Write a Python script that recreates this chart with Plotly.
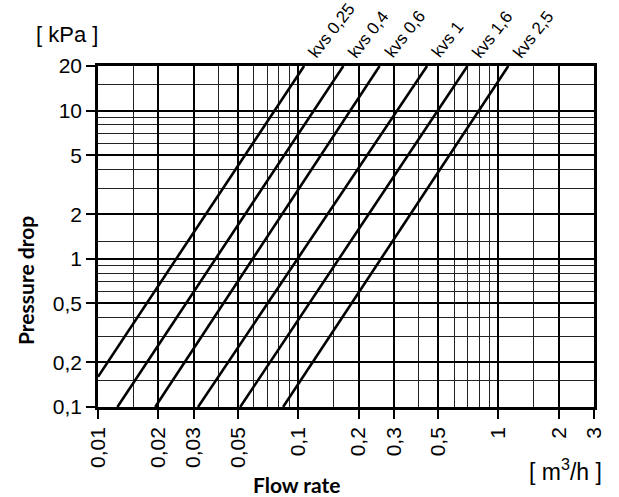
import plotly.graph_objects as go
import math

# ---- data ----
kvs_labels = ["kvs 0,25", "kvs 0,4", "kvs 0,6", "kvs 1", "kvs 1,6", "kvs 2,5"]
# start and end points of each characteristic line (flow m3/h, pressure drop kPa)
q_start = [0.01, 0.0125, 0.0193, 0.0316, 0.0513, 0.084]
dp_start = [0.16, 0.1, 0.1, 0.1, 0.1, 0.1]
q_end = [0.107, 0.168, 0.255, 0.44, 0.70, 1.12]
dp_end = [20, 20, 20, 20, 20, 20]

x_tickvals = [0.01, 0.02, 0.03, 0.05, 0.1, 0.2, 0.3, 0.5, 1, 2, 3]
x_ticktext = ["0,01", "0,02", "0,03", "0,05", "0,1", "0,2", "0,3", "0,5", "1", "2", "3"]
x_minor = [0.015, 0.04, 0.06, 0.07, 0.08, 0.09, 0.15, 0.4, 0.6, 0.7, 0.8, 0.9, 1.5]

y_tickvals = [0.1, 0.2, 0.5, 1, 2, 5, 10, 20]
y_ticktext = ["0,1", "0,2", "0,5", "1", "2", "5", "10", "20"]
y_minor = [0.15, 0.3, 0.4, 0.6, 0.7, 0.8, 0.9, 1.3, 3, 4, 6, 7, 8, 9, 15]

x_range = [0.01, 3]
y_range = [0.1, 20]

fig = go.Figure()
for i in range(len(kvs_labels)):
    fig.add_trace(go.Scatter(
        x=[q_start[i], q_end[i]], y=[dp_start[i], dp_end[i]],
        mode="lines", line=dict(color="black", width=2.6),
        showlegend=False, hoverinfo="skip"))
    fig.add_annotation(
        x=math.log10(q_end[i]), y=math.log10(dp_end[i]), xref="x", yref="y",
        text=kvs_labels[i], showarrow=False, textangle=-52,
        xanchor="left", yanchor="bottom", xshift=-2, yshift=2,
        font=dict(family="Liberation Sans, Arial", size=17, color="black"))

tickfont = dict(family="Liberation Sans, Arial", size=21, color="black")
fig.update_xaxes(
    type="log", range=[math.log10(x_range[0]), math.log10(x_range[1])],
    tickmode="array", tickvals=x_tickvals, ticktext=x_ticktext, tickangle=-90,
    ticks="outside", ticklen=9, tickwidth=1.5, tickcolor="black",
    showgrid=True, gridcolor="black", gridwidth=1.5,
    minor=dict(tickmode="array", tickvals=x_minor, showgrid=True,
               gridcolor="#222", gridwidth=1.3, ticks=""),
    showline=True, linecolor="black", linewidth=2.5, mirror=True,
    tickfont=tickfont, zeroline=False)
fig.update_yaxes(
    type="log", range=[math.log10(y_range[0]), math.log10(y_range[1])],
    tickmode="array", tickvals=y_tickvals, ticktext=y_ticktext,
    ticks="outside", ticklen=9, tickwidth=1.5, tickcolor="black",
    showgrid=True, gridcolor="black", gridwidth=1.5,
    minor=dict(tickmode="array", tickvals=y_minor, showgrid=True,
               gridcolor="#222", gridwidth=1.3, ticks=""),
    showline=True, linecolor="black", linewidth=2.5, mirror=True,
    tickfont=tickfont, zeroline=False)

W, H = 619, 497
L, T = 98, 66
pw, ph = 496, 341
R = W - L - pw
B = H - T - ph

def px(xp):
    return (xp - L) / pw

def py(yp):
    return (H - B - yp) / ph

fig.add_annotation(x=px(67), y=py(34), xref="paper", yref="paper", text="[ kPa ]",
                   showarrow=False, xanchor="center", yanchor="middle",
                   font=dict(family="Liberation Sans, Arial", size=22, color="black"))
fig.add_annotation(x=px(25), y=py(281), xref="paper", yref="paper", text="<b>Pressure drop</b>",
                   showarrow=False, textangle=-90, xanchor="center", yanchor="middle",
                   font=dict(family="Lato, Open Sans", size=21, color="black"))
fig.add_annotation(x=px(297), y=py(484), xref="paper", yref="paper", text="<b>Flow rate</b>",
                   showarrow=False, xanchor="center", yanchor="middle",
                   font=dict(family="Lato, Open Sans", size=21, color="black"))
fig.add_annotation(x=px(565), y=py(470), xref="paper", yref="paper", text="[ m<sup>3</sup>/h ]",
                   showarrow=False, xanchor="center", yanchor="middle",
                   font=dict(family="Liberation Sans, Arial", size=23, color="black"))

fig.update_layout(
    width=W, height=H, margin=dict(l=L, r=R, t=T, b=B, autoexpand=False),
    plot_bgcolor="white", paper_bgcolor="white")

fig.write_html("out.html", config={"displayModeBar": False},
               post_script="document.body.style.margin='0';document.body.style.overflow='hidden';")
